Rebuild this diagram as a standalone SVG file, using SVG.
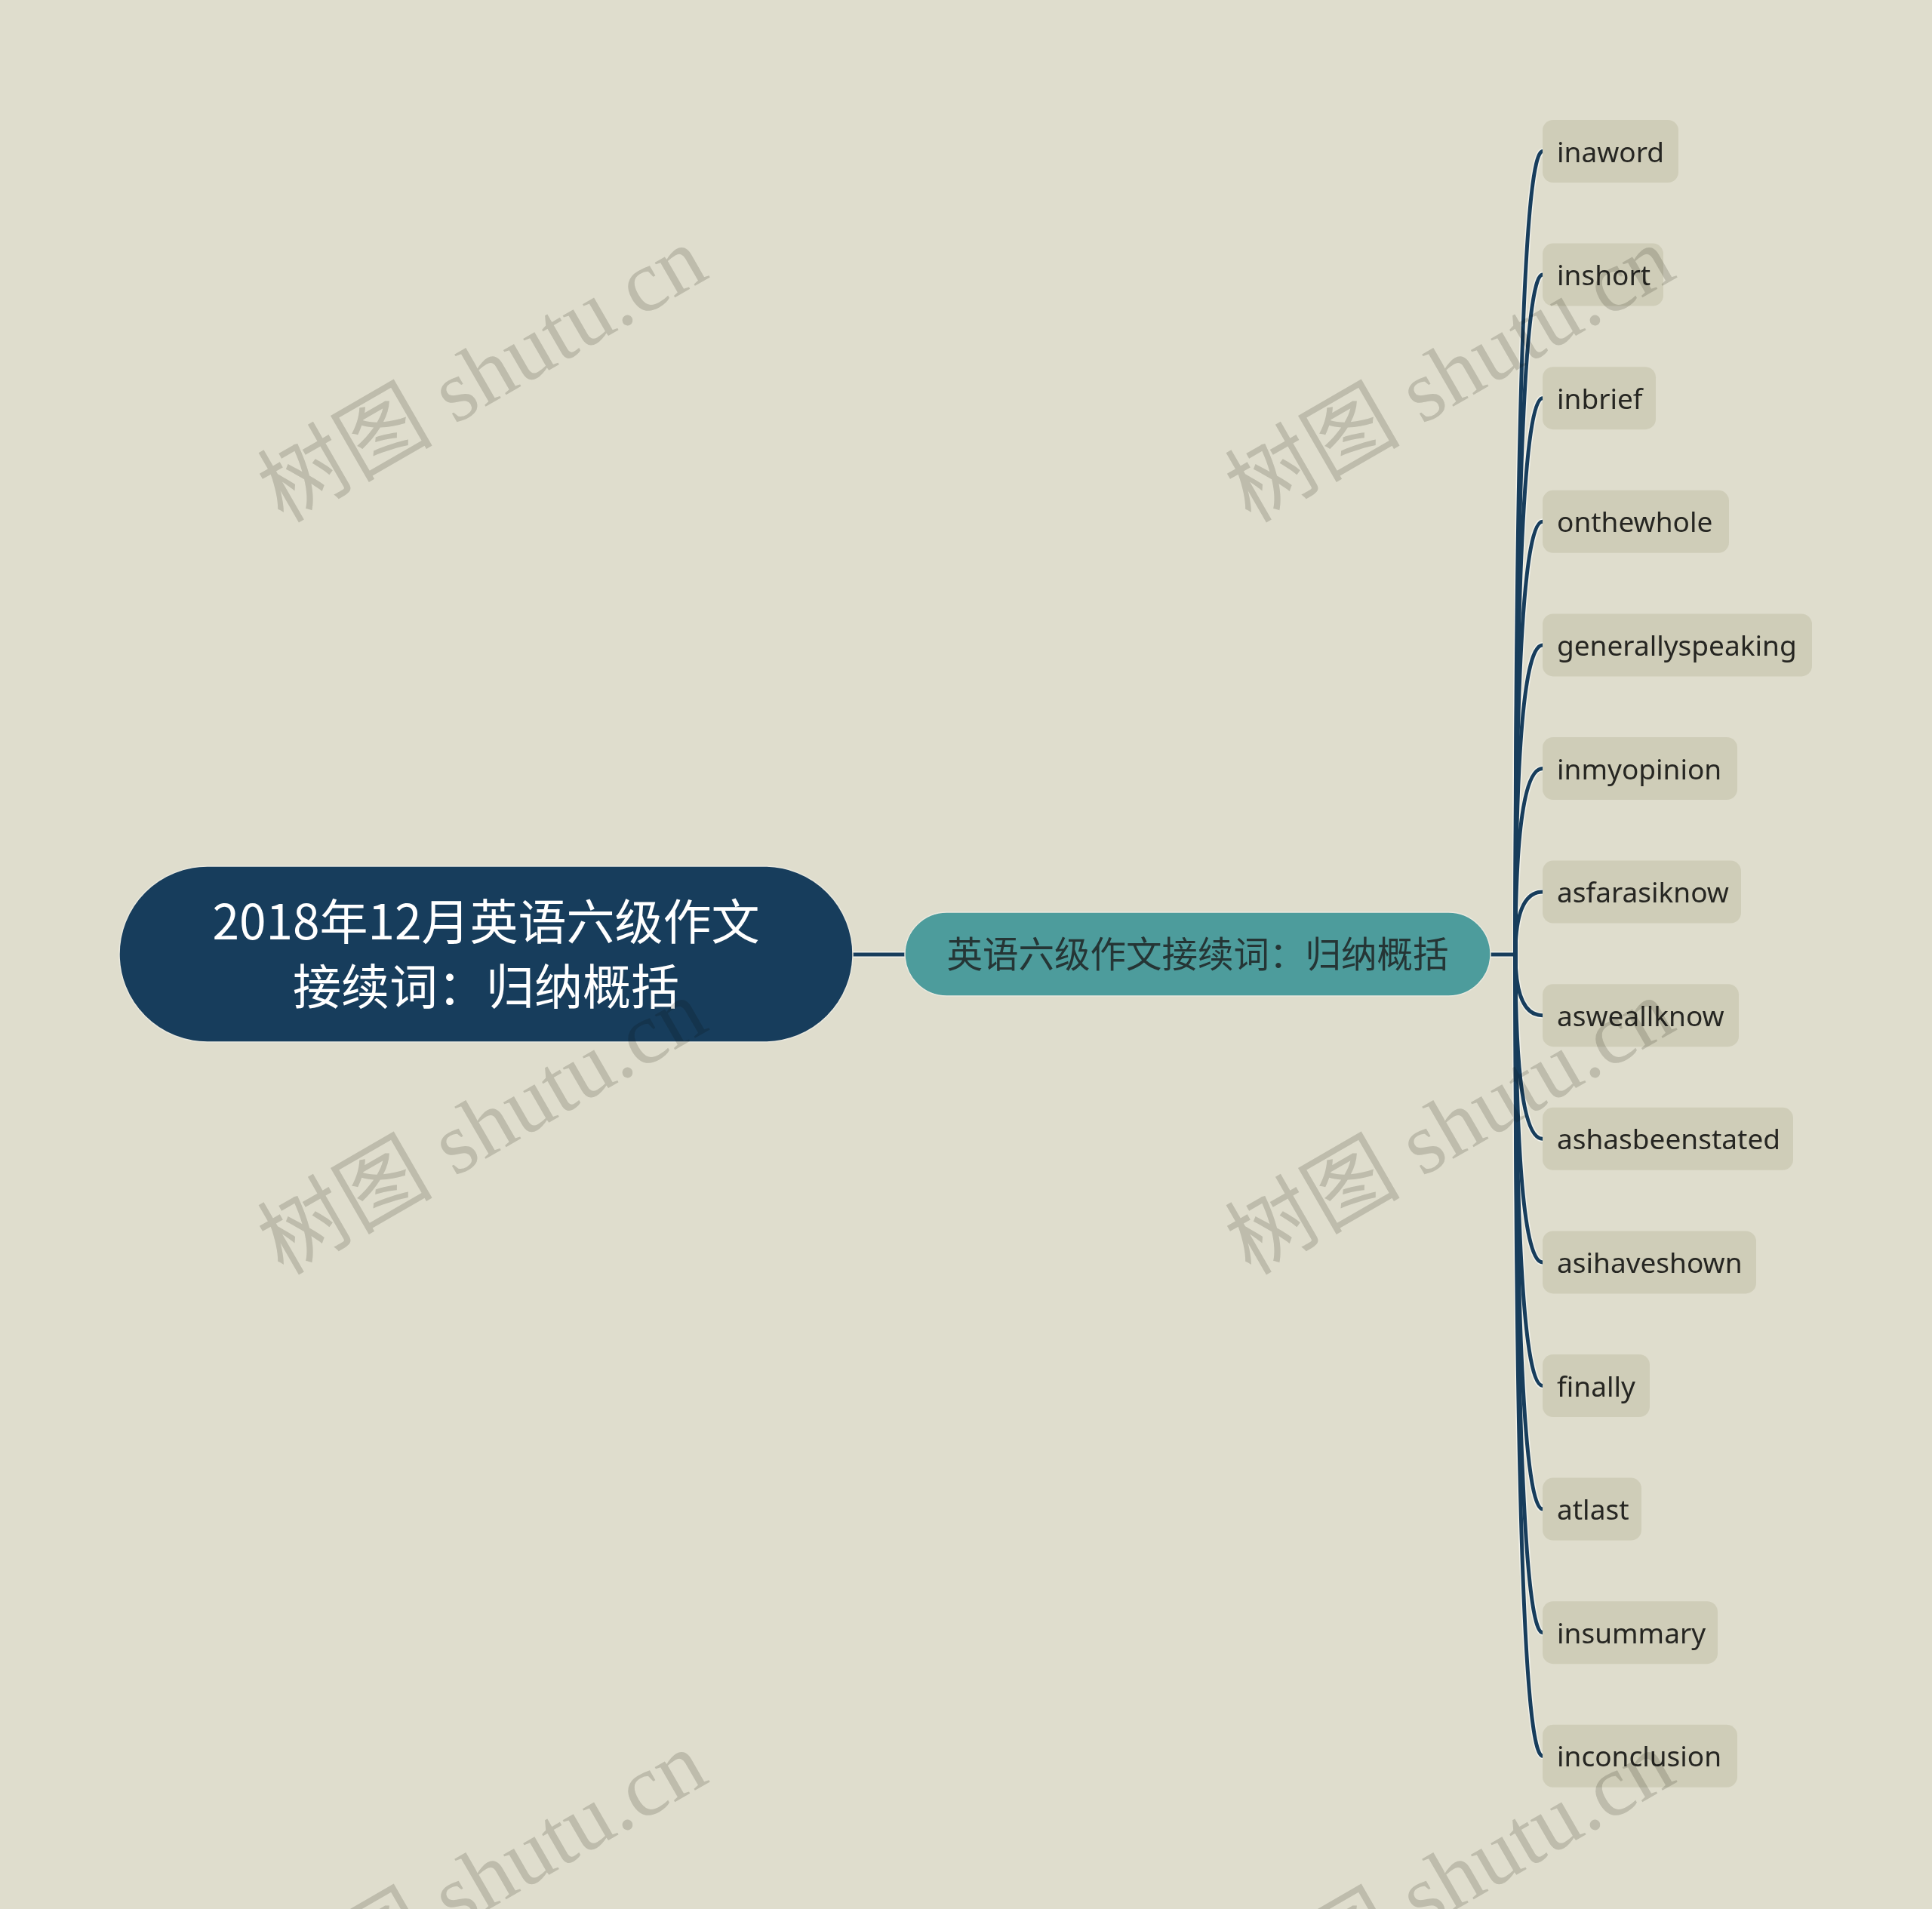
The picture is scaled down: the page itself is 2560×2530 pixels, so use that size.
<svg xmlns="http://www.w3.org/2000/svg" width="2560" height="2530" viewBox="0 0 2560 2530">
<style>
.leaf rect{fill:#cfcdb8;}
.leaf text{font-family:"Noto Sans","Open Sans","Liberation Sans",sans-serif;font-size:37px;fill:#262622;}
.halo{fill:none;stroke:#f3f2ea;stroke-width:8;}
.line{fill:none;stroke:#173d5c;stroke-width:5;}
.wm{font-family:"Liberation Serif","Noto Sans CJK SC",serif;font-size:116px;fill:#d9d9d6;mix-blend-mode:multiply;}
</style>
<rect x="0" y="0" width="2560" height="2530" fill="#dfddcd"/>
<g id="connectors">
<g class="halo">
<path d="M1130 1265 L1199 1265"/>
<path d="M1975 1265 L2008 1265"/>
<path d="M2008 1265 Q2008 200.5 2044 200.5"/>
<path d="M2008 1265 Q2008 364.1 2044 364.1"/>
<path d="M2008 1265 Q2008 527.7 2044 527.7"/>
<path d="M2008 1265 Q2008 691.3 2044 691.3"/>
<path d="M2008 1265 Q2008 854.9 2044 854.9"/>
<path d="M2008 1265 Q2008 1018.5 2044 1018.5"/>
<path d="M2008 1265 Q2008 1182.1 2044 1182.1"/>
<path d="M2008 1265 Q2008 1345.7 2044 1345.7"/>
<path d="M2008 1265 Q2008 1509.3 2044 1509.3"/>
<path d="M2008 1265 Q2008 1672.9 2044 1672.9"/>
<path d="M2008 1265 Q2008 1836.5 2044 1836.5"/>
<path d="M2008 1265 Q2008 2000.1 2044 2000.1"/>
<path d="M2008 1265 Q2008 2163.7 2044 2163.7"/>
<path d="M2008 1265 Q2008 2327.3 2044 2327.3"/>
</g>
<g class="line">
<path d="M1130 1265 L1199 1265"/>
<path d="M1975 1265 L2008 1265"/>
<path d="M2008 1265 Q2008 200.5 2044 200.5"/>
<path d="M2008 1265 Q2008 364.1 2044 364.1"/>
<path d="M2008 1265 Q2008 527.7 2044 527.7"/>
<path d="M2008 1265 Q2008 691.3 2044 691.3"/>
<path d="M2008 1265 Q2008 854.9 2044 854.9"/>
<path d="M2008 1265 Q2008 1018.5 2044 1018.5"/>
<path d="M2008 1265 Q2008 1182.1 2044 1182.1"/>
<path d="M2008 1265 Q2008 1345.7 2044 1345.7"/>
<path d="M2008 1265 Q2008 1509.3 2044 1509.3"/>
<path d="M2008 1265 Q2008 1672.9 2044 1672.9"/>
<path d="M2008 1265 Q2008 1836.5 2044 1836.5"/>
<path d="M2008 1265 Q2008 2000.1 2044 2000.1"/>
<path d="M2008 1265 Q2008 2163.7 2044 2163.7"/>
<path d="M2008 1265 Q2008 2327.3 2044 2327.3"/>
</g>
</g>
<g id="root">
<rect x="158" y="1148" width="972" height="233" rx="116.5" fill="#173d5c" stroke="#e9e8de" stroke-width="1.5"/>
<text x="644" y="1245" text-anchor="middle" font-family="'Noto Sans CJK SC','Noto Sans',sans-serif" font-size="64" fill="#ffffff">2018年12月英语六级作文</text>
<text x="644" y="1331" text-anchor="middle" font-family="'Noto Sans CJK SC','Noto Sans',sans-serif" font-size="64" fill="#ffffff">接续词：归纳概括</text>
</g>
<g id="main">
<rect x="1199" y="1209" width="776" height="111" rx="55.5" fill="#4d9c9c" stroke="#e9e8de" stroke-width="1.5"/>
<text x="1587" y="1282" text-anchor="middle" font-family="'Noto Sans CJK SC','Noto Sans',sans-serif" font-size="47.5" fill="#253535">英语六级作文接续词：归纳概括</text>
</g>
<g id="leaf-inaword" class="leaf"><rect x="2044" y="159" width="180" height="83" rx="14"/><text x="2063" y="214.5">inaword</text></g>
<g id="leaf-inshort" class="leaf"><rect x="2044" y="322.6" width="160" height="83" rx="14"/><text x="2063" y="378.1">inshort</text></g>
<g id="leaf-inbrief" class="leaf"><rect x="2044" y="486.2" width="150" height="83" rx="14"/><text x="2063" y="541.7">inbrief</text></g>
<g id="leaf-onthewhole" class="leaf"><rect x="2044" y="649.8" width="247" height="83" rx="14"/><text x="2063" y="705.3">onthewhole</text></g>
<g id="leaf-generallyspeaking" class="leaf"><rect x="2044" y="813.4" width="357" height="83" rx="14"/><text x="2063" y="868.9">generallyspeaking</text></g>
<g id="leaf-inmyopinion" class="leaf"><rect x="2044" y="977" width="258" height="83" rx="14"/><text x="2063" y="1032.5">inmyopinion</text></g>
<g id="leaf-asfarasiknow" class="leaf"><rect x="2044" y="1140.6" width="263" height="83" rx="14"/><text x="2063" y="1196.1">asfarasiknow</text></g>
<g id="leaf-asweallknow" class="leaf"><rect x="2044" y="1304.2" width="260" height="83" rx="14"/><text x="2063" y="1359.7">asweallknow</text></g>
<g id="leaf-ashasbeenstated" class="leaf"><rect x="2044" y="1467.8" width="332" height="83" rx="14"/><text x="2063" y="1523.3">ashasbeenstated</text></g>
<g id="leaf-asihaveshown" class="leaf"><rect x="2044" y="1631.4" width="283" height="83" rx="14"/><text x="2063" y="1686.9">asihaveshown</text></g>
<g id="leaf-finally" class="leaf"><rect x="2044" y="1795" width="142" height="83" rx="14"/><text x="2063" y="1850.5">finally</text></g>
<g id="leaf-atlast" class="leaf"><rect x="2044" y="1958.6" width="131" height="83" rx="14"/><text x="2063" y="2014.1">atlast</text></g>
<g id="leaf-insummary" class="leaf"><rect x="2044" y="2122.2" width="232" height="83" rx="14"/><text x="2063" y="2177.7">insummary</text></g>
<g id="leaf-inconclusion" class="leaf"><rect x="2044" y="2285.8" width="258" height="83" rx="14"/><text x="2063" y="2341.3">inconclusion</text></g>
<g id="watermarks">
<text class="wm" transform="translate(375 694) rotate(-30)" textLength="655" lengthAdjust="spacing">树图 shutu.cn</text>
<text class="wm" transform="translate(1657 694) rotate(-30)" textLength="655" lengthAdjust="spacing">树图 shutu.cn</text>
<text class="wm" transform="translate(375 1691) rotate(-30)" textLength="655" lengthAdjust="spacing">树图 shutu.cn</text>
<text class="wm" transform="translate(1657 1691) rotate(-30)" textLength="655" lengthAdjust="spacing">树图 shutu.cn</text>
<text class="wm" transform="translate(375 2688) rotate(-30)" textLength="655" lengthAdjust="spacing">树图 shutu.cn</text>
<text class="wm" transform="translate(1657 2688) rotate(-30)" textLength="655" lengthAdjust="spacing">树图 shutu.cn</text>
</g>
</svg>
